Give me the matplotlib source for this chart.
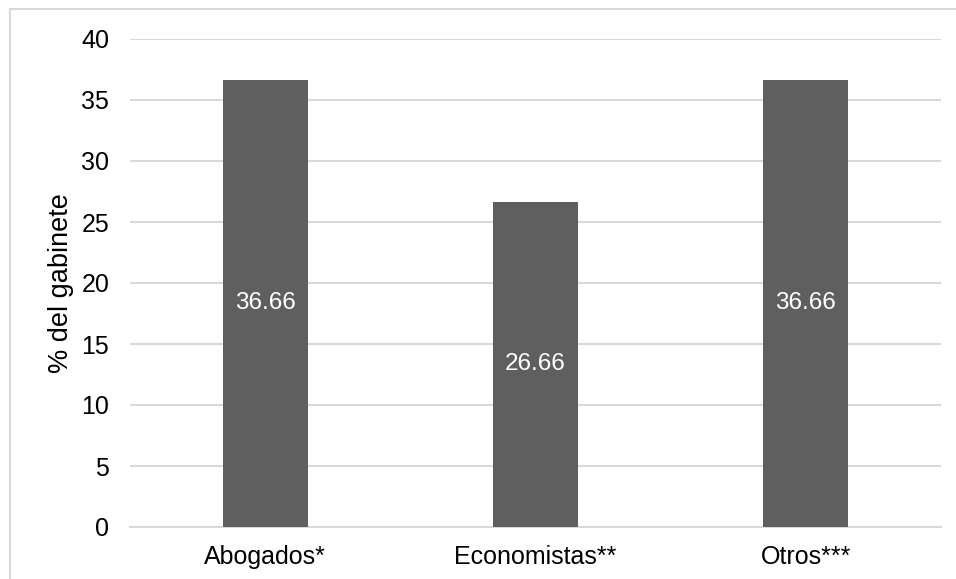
import matplotlib.pyplot as plt
from matplotlib.patches import Rectangle

# datos
categorias = ['Abogados*', 'Economistas**', 'Otros***']
porcentajes = [36.66, 26.66, 36.66]
etiquetas = ['36.66', '26.66', '36.66']
yticks = [0, 5, 10, 15, 20, 25, 30, 35, 40]

plt.rcParams['font.family'] = ['Liberation Sans', 'DejaVu Sans']

W, H = 956, 579
fig = plt.figure(figsize=(W / 100, H / 100), dpi=100)
# borde gris del area del grafico (sin lados derecho/inferior visibles)
fig.patches.append(Rectangle((10 / W, -0.5), 2.0, 0.5 + (H - 9) / H, transform=fig.transFigure,
                             fill=False, edgecolor='#d9d9d9', linewidth=1.5))

ax = fig.add_axes([130 / W, (H - 527) / H, (941 - 130) / W, (527 - 39) / H])
x = range(len(categorias))
barras = ax.bar(x, porcentajes, width=0.315, color='#5f5f5f', zorder=3)
for b, t in zip(barras, etiquetas):
    ax.text(b.get_x() + b.get_width() / 2, b.get_height() / 2, t,
            ha='center', va='center', color='white', fontsize=17.5)

ax.set_xlim(-0.5, 2.5)
ax.set_ylim(0, 40)
ax.set_yticks(yticks)
ax.set_xticks(list(x))
ax.set_xticklabels(categorias)
ax.tick_params(axis='both', length=0, labelsize=18, colors='black')
ax.tick_params(axis='y', pad=15)
ax.tick_params(axis='x', pad=13)
ax.grid(axis='y', color='#d9d9d9', linewidth=1.5, zorder=0)
for s in ['top', 'right', 'left']:
    ax.spines[s].set_visible(False)
ax.spines['bottom'].set_color('#d9d9d9')
ax.spines['bottom'].set_linewidth(1.5)
ax.set_ylabel('% del gabinete', fontsize=19.5, labelpad=5)

fig.savefig('out.png', dpi=100)
